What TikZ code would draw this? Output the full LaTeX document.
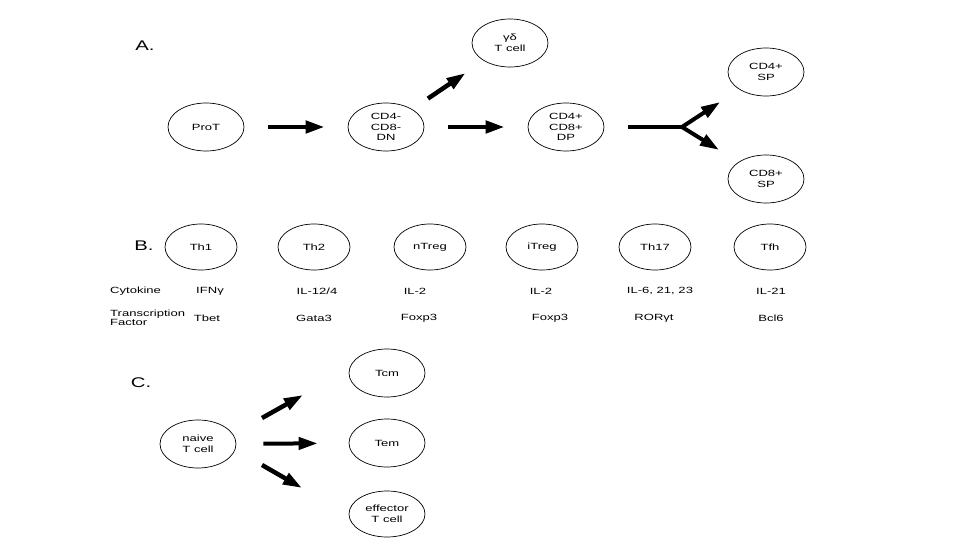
\documentclass[tikz,border=0pt]{standalone}
\usepackage{fontspec}
\setmainfont{Liberation Sans}[FakeStretch=1.45]
\usetikzlibrary{shapes.geometric}
\usetikzlibrary{arrows.meta}

\begin{document}
\begin{tikzpicture}[x=1pt, y=-1pt,
        cell/.style={draw, ellipse, line width=0.7pt, minimum width=76pt, minimum height=48pt,
            inner sep=0pt, align=center, font=\fontsize{9}{10.5}\selectfont},
        tcell/.style={cell, minimum width=72pt, minimum height=46pt},
        txt/.style={inner sep=0pt, font=\fontsize{9}{9.5}\selectfont},
        lbl/.style={inner sep=0pt, font=\fontsize{14}{14}\selectfont},
        bigarrow/.style={line width=4.5pt, -{Triangle[length=19pt, width=12pt]}}]
        \useasboundingbox (0,0) rectangle (960,540);

        % A. thymic development
        \node[lbl] (la) at (145,46) {A.};
        \node[cell] (prot) at (206,127) {ProT};
        \node[cell] (dn) at (386,127) {CD4-\\CD8-\\DN};
        \node[cell] (gd) at (510,43) {γδ\\T cell};
        \node[cell] (dp) at (566,127) {CD4+\\CD8+\\DP};
        \node[cell] (sp4) at (766,72) {CD4+\\SP};
        \node[cell] (sp8) at (766,179) {CD8+\\SP};
        \coordinate (fork) at (682,127);

        \draw[bigarrow, shorten <=24pt, shorten >=23pt] (prot) -- (dn);
        \draw[bigarrow, shorten <=24pt, shorten >=23pt] (dn) -- (dp);
        \draw[bigarrow, shorten <=19pt, shorten >=22pt] (dn) -- (gd);
        \draw[line width=4.5pt, shorten <=24pt] (dp) -- (fork);
        \foreach \s in {sp4, sp8}
            \draw[bigarrow, line width=4pt, shorten >=23pt] (fork) -- (\s);

        % B. helper subsets
        \node[lbl] (lb) at (144,246) {B.};
        \foreach \n/\x/\t in {th1/201/Th1, th2/314/Th2, ntreg/430/nTreg, itreg/542/iTreg, th17/655/Th17, tfh/770/Tfh}
            \node[tcell] (\n) at (\x,247) {\t};

        \node[txt, anchor=west] (cyto) at (110,291) {Cytokine};
        \node[txt, anchor=west, align=left] (tf) at (110,318) {Transcription\\Factor};
        \foreach \n/\x/\t in {c1/210/{IFNγ}, c2/317/{IL-12/4}, c3/415/{IL-2}, c4/541/{IL-2}, c5/660/{IL-6, 21, 23}, c6/771/{IL-21}}
            \node[txt] (\n) at (\x,291) {\t};
        \foreach \n/\x/\t in {f1/207/Tbet, f2/314/Gata3, f3/419/Foxp3, f4/550/Foxp3, f5/654/RORγt, f6/771/Bcl6}
            \node[txt] (\n) at (\x,318) {\t};

        % C. memory subsets
        \node[lbl] (lc) at (141,383) {C.};
        \node[cell] (naive) at (198,444) {naive\\T cell};
        \node[cell] (tcm) at (387,373) {Tcm};
        \node[cell] (tem) at (387,443) {Tem};
        \node[cell, minimum height=46pt] (eff) at (387,514) {effector\\T cell};
        \coordinate (up-s) at (262,418);
        \coordinate (up-e) at (303,395);
        \coordinate (dw-s) at (262,465);
        \coordinate (dw-e) at (302,488);

        \draw[bigarrow] (up-s) -- (up-e);
        \draw[bigarrow, line width=4pt, shorten <=27pt, shorten >=31pt] (naive) -- (tem);
        \draw[bigarrow] (dw-s) -- (dw-e);
\end{tikzpicture}
\end{document}
